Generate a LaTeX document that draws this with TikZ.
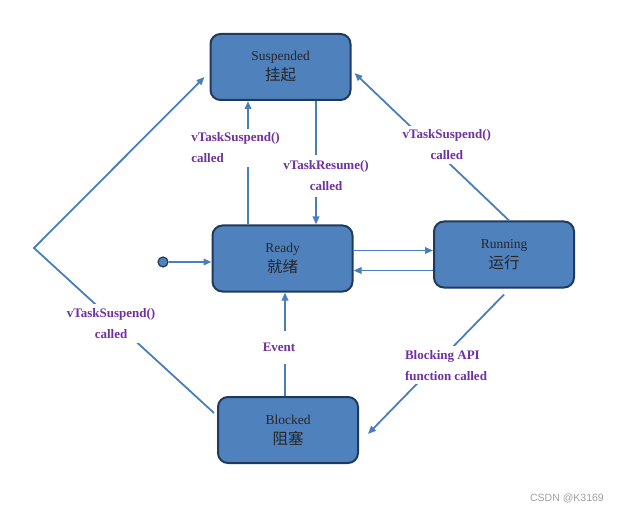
\documentclass[tikz,border=0pt]{standalone}
\usepackage{fontspec}
\setmainfont{Liberation Serif}
\newfontfamily\cjk{Noto Sans CJK SC}
\newfontfamily\wmfont{Liberation Sans}
\usetikzlibrary{arrows.meta}
\definecolor{boxfill}{HTML}{4F81BD}
\definecolor{boxrim}{HTML}{1F3A5C}
\definecolor{linecol}{HTML}{4A7EBB}
\definecolor{lila}{HTML}{7030A0}
\tikzset{
  box/.style={draw=boxrim,fill=boxfill,line width=2pt,rounded corners=10pt,
    minimum width=140pt,minimum height=66pt,align=center,text=black!85,
    font=\fontsize{13.5}{20}\selectfont},
  arr/.style={draw=linecol,line width=1.8pt,-{Triangle[length=8pt,width=6.5pt]}},
  lbl/.style={fill=white,text=lila,font=\bfseries\fontsize{13}{21}\selectfont,inner sep=4pt},
  dot/.style={circle,draw=boxrim,fill=boxfill,line width=1.2pt,minimum size=10pt,inner sep=0pt},
}
\newcommand{\zh}[1]{{\cjk\fontsize{15.5}{20}\selectfont #1}}

\begin{document}
\begin{tikzpicture}[x=1pt,y=-1pt]
  \useasboundingbox (0,0) rectangle (621,513);
  % states
  \node[box] (sus) at (280.5,67) {Suspended\\\zh{挂起}};
  \node[box] (rdy) at (282.5,258.5) {Ready\\\zh{就绪}};
  \node[box] (run) at (504,254.5) {Running\\\zh{运行}};
  \node[box] (blk) at (288,430) {Blocked\\\zh{阻塞}};
  \node[dot] (start) at (163,262) {};
  \coordinate (bend) at (34,248);
  % transitions
  \draw[arr] (start) -- (start -| rdy.west);
  \draw[arr] ([xshift=-34.5pt]rdy.north) -- ([xshift=-32.5pt]sus.south)
    node[lbl,pos=0.5,xshift=-12.5pt,yshift=15pt,align=left] {vTaskSuspend()\\called};
  \draw[arr] ([xshift=35.5pt]sus.south) -- ([xshift=33.5pt]rdy.north)
    node[lbl,pos=0.5,xshift=10pt,yshift=-13pt,align=center,inner sep=6pt] {vTaskResume()\\called};
  \draw[arr] ([yshift=8pt]rdy.east) -- ([yshift=8pt]rdy.east -| run.west);
  \draw[arr] ([yshift=-12pt]rdy.east -| run.west) -- ([yshift=-12pt]rdy.east);
  \draw[arr] ([xshift=5pt]run.north) -- ([xshift=3pt,yshift=-6pt]sus.east)
    node[lbl,pos=0.5,xshift=15pt,yshift=2pt,align=center] {vTaskSuspend()\\called};
  \draw[arr] ([yshift=-6pt]run.south) -- ([xshift=9pt,yshift=-4pt]blk.east)
    node[lbl,pos=0.5,xshift=10pt,yshift=-1pt,align=left] {Blocking API\\function called};
  \draw[arr] ([xshift=-3pt]blk.north) -- ([xshift=2.5pt]rdy.south)
    node[lbl,pos=0.5,xshift=-6pt,yshift=-3pt,inner ysep=12pt] {Event};
  \draw[arr] ([xshift=-3pt,yshift=17pt]blk.west)
    -- node[lbl,xshift=-13pt,yshift=7pt,align=center] {vTaskSuspend()\\called} (bend)
    -- ([xshift=-5pt,yshift=-10pt]sus.west);
  % watermark
  \node[text=gray!75,font=\wmfont\fontsize{10.5}{12}\selectfont] (mark) at (567,498) {CSDN @K3169};
\end{tikzpicture}
\end{document}
